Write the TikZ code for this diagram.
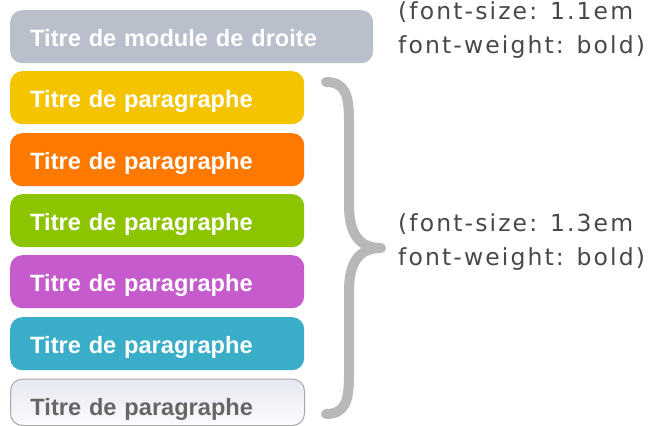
\documentclass[tikz,border=0pt]{standalone}
\usepackage{fontspec}
\setmainfont{Liberation Sans}
\newfontfamily\notefont[LetterSpace=9]{DejaVu Sans}
\definecolor{cgray}{HTML}{B9BFCB}
\definecolor{cyellow}{HTML}{F5C400}
\definecolor{corange}{HTML}{FF7800}
\definecolor{cgreen}{HTML}{8DC400}
\definecolor{cpurple}{HTML}{C55BCC}
\definecolor{ccyan}{HTML}{3AAEC9}
\definecolor{cwtop}{HTML}{E6E9F1}
\definecolor{cwbot}{HTML}{FAFBFD}
\definecolor{cwborder}{HTML}{A8A8A8}
\definecolor{cwtext}{HTML}{666666}
\definecolor{cbrace}{HTML}{B8B8B8}
\definecolor{cnote}{HTML}{484848}
\tikzset{
  modbox/.style={anchor=north west, rounded corners=12pt, inner xsep=20pt, inner ysep=0pt,
    text height=36.5pt, text depth=16.5pt, align=left, text=white,
    font=\fontsize{23.6pt}{28pt}\selectfont\bfseries},
  parbox/.style={modbox, text width=254pt},
  notetext/.style={anchor=base west, inner sep=0pt, text=cnote,
    font=\notefont\fontsize{23.5pt}{28pt}\selectfont},
  bracestyle/.style={draw=cbrace, line width=10pt, line cap=round, line join=round}
}
\begin{document}
\begin{tikzpicture}[x=1pt,y=-1pt]
\useasboundingbox (0,0) rectangle (662,426);
\node[modbox, fill=cgray, text width=323pt] (mod) at (10,10) {Titre de module de droite};
\node[parbox, fill=cyellow] (p1) at (10,71) {Titre de paragraphe};
\node[parbox, fill=corange] (p2) at (10,133) {Titre de paragraphe};
\node[parbox, fill=cgreen] (p3) at (10,194) {Titre de paragraphe};
\node[parbox, fill=cpurple] (p4) at (10,255) {Titre de paragraphe};
\node[parbox, fill=ccyan] (p5) at (10,317) {Titre de paragraphe};
\node[parbox, top color=cwtop, bottom color=cwbot, draw=cwborder, line width=1pt,
  text=cwtext, text depth=10pt] (p6) at (10,378.5) {Titre de paragraphe};
\coordinate (btop) at (326,82);
\coordinate (btip) at (381,248);
\coordinate (bbot) at (326,414);
\draw[bracestyle] (btop) .. controls (345,82) and (349,95) .. (349,120) -- (349,205)
  .. controls (349,235) and (360,248) .. (btip)
  .. controls (360,248) and (349,261) .. (349,291) -- (349,376)
  .. controls (349,401) and (345,414) .. (bbot);
\node[notetext] (n1a) at (398,19.5) {(font-size: 1.1em};
\node[notetext] (n1b) at (398,53) {font-weight: bold)};
\node[notetext] (n2a) at (398,231) {(font-size: 1.3em};
\node[notetext] (n2b) at (398,265) {font-weight: bold)};
\end{tikzpicture}
\end{document}
